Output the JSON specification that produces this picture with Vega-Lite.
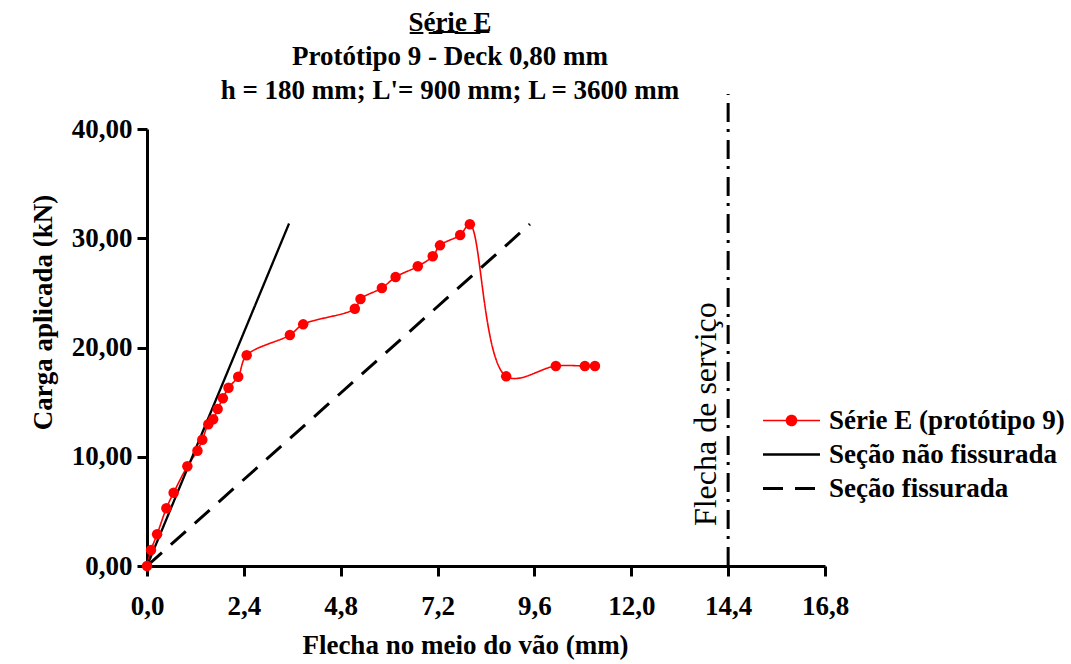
{
  "$schema": "https://vega.github.io/schema/vega-lite/v6.json",
  "width": 678,
  "height": 437,
  "autosize": {"type": "none"},
  "padding": {"left": 147, "top": 129, "right": 246, "bottom": 98},
  "background": "white",
  "config": {
    "view": {"stroke": null},
    "font": "Liberation Serif",
    "axis": {
      "labelFont": "Liberation Serif",
      "labelFontSize": 27,
      "labelFontWeight": "bold",
      "labelColor": "black",
      "labelFlush": false,
      "titleFont": "Liberation Serif",
      "titleFontSize": 27,
      "titleFontWeight": "bold",
      "titleColor": "black",
      "domainColor": "black",
      "domainWidth": 3,
      "tickColor": "black",
      "tickWidth": 3,
      "tickSize": 10,
      "grid": false
    }
  },
  "title": {
    "text": "S̲é̲r̲i̲e̲ ̲E̲",
    "subtitle": ["Protótipo 9 - Deck 0,80 mm", "h = 180 mm; L'= 900 mm; L = 3600 mm"],
    "font": "Liberation Serif",
    "fontSize": 27,
    "fontWeight": "bold",
    "color": "black",
    "subtitleFont": "Liberation Serif",
    "subtitleFontSize": 27,
    "subtitleFontWeight": "bold",
    "subtitleColor": "black",
    "subtitleLineHeight": 34,
    "subtitlePadding": 7,
    "anchor": "middle",
    "dx": -36,
    "offset": -12
  },
  "datasets": {
    "curves": [
      {"serie": "Série E (protótipo 9)", "x": 0, "y": 0},
      {"serie": "Série E (protótipo 9)", "x": 0.10, "y": 1.46},
      {"serie": "Série E (protótipo 9)", "x": 0.25, "y": 2.9},
      {"serie": "Série E (protótipo 9)", "x": 0.48, "y": 5.28},
      {"serie": "Série E (protótipo 9)", "x": 0.66, "y": 6.71},
      {"serie": "Série E (protótipo 9)", "x": 1.0, "y": 9.13},
      {"serie": "Série E (protótipo 9)", "x": 1.25, "y": 10.55},
      {"serie": "Série E (protótipo 9)", "x": 1.37, "y": 11.56},
      {"serie": "Série E (protótipo 9)", "x": 1.52, "y": 12.97},
      {"serie": "Série E (protótipo 9)", "x": 1.64, "y": 13.43},
      {"serie": "Série E (protótipo 9)", "x": 1.75, "y": 14.37},
      {"serie": "Série E (protótipo 9)", "x": 1.88, "y": 15.35},
      {"serie": "Série E (protótipo 9)", "x": 2.02, "y": 16.32},
      {"serie": "Série E (protótipo 9)", "x": 2.26, "y": 17.33},
      {"serie": "Série E (protótipo 9)", "x": 2.47, "y": 19.29},
      {"serie": "Série E (protótipo 9)", "x": 3.54, "y": 21.14},
      {"serie": "Série E (protótipo 9)", "x": 3.87, "y": 22.12},
      {"serie": "Série E (protótipo 9)", "x": 5.15, "y": 23.55},
      {"serie": "Série E (protótipo 9)", "x": 5.29, "y": 24.44},
      {"serie": "Série E (protótipo 9)", "x": 5.82, "y": 25.45},
      {"serie": "Série E (protótipo 9)", "x": 6.16, "y": 26.45},
      {"serie": "Série E (protótipo 9)", "x": 6.71, "y": 27.43},
      {"serie": "Série E (protótipo 9)", "x": 7.08, "y": 28.35},
      {"serie": "Série E (protótipo 9)", "x": 7.26, "y": 29.35},
      {"serie": "Série E (protótipo 9)", "x": 7.76, "y": 30.3},
      {"serie": "Série E (protótipo 9)", "x": 8.0, "y": 31.28},
      {"serie": "Série E (protótipo 9)", "x": 8.9, "y": 17.36},
      {"serie": "Série E (protótipo 9)", "x": 10.13, "y": 18.31},
      {"serie": "Série E (protótipo 9)", "x": 10.85, "y": 18.31},
      {"serie": "Série E (protótipo 9)", "x": 11.1, "y": 18.31},
      {"serie": "Seção não fissurada", "x": 0, "y": 0},
      {"serie": "Seção não fissurada", "x": 3.52, "y": 31.35},
      {"serie": "Seção fissurada", "x": 0, "y": 0},
      {"serie": "Seção fissurada", "x": 9.49, "y": 31.3}
    ],
    "servico": [
      {"x": 14.4, "y": 0, "y2": 43.2, "label": "Flecha de serviço", "lx": 13.85, "ly": 13.9}
    ]
  },
  "layer": [
    {
      "data": {"name": "curves"},
      "mark": {"type": "line", "interpolate": "catmull-rom"},
      "encoding": {
        "x": {
          "field": "x", "type": "quantitative",
          "scale": {"domain": [0, 16.8], "nice": false, "zero": false},
          "axis": {
            "title": "Flecha no meio do vão (mm)",
            "values": [0, 2.4, 4.8, 7.2, 9.6, 12.0, 14.4, 16.8],
            "labelExpr": "replace(format(datum.value, '.1f'), '.', ',')",
            "labelPadding": 17,
            "titlePadding": 13,
            "titleX": 318,
            "titleAlign": "center",
            "encode": {"ticks": {"update": {"y": {"value": -10}, "y2": {"value": 10}}}}
          }
        },
        "y": {
          "field": "y", "type": "quantitative",
          "scale": {"domain": [0, 40], "nice": false},
          "axis": {
            "title": "Carga aplicada (kN)",
            "values": [0, 10, 20, 30, 40],
            "labelExpr": "replace(format(datum.value, '.2f'), '.', ',')",
            "labelPadding": 5,
            "titlePadding": 14,
            "titleY": 183,
            "encode": {"ticks": {"update": {"x": {"value": 10}, "x2": {"value": -10}}}}
          }
        },
        "color": {
          "field": "serie", "type": "nominal",
          "scale": {
            "domain": ["Série E (protótipo 9)", "Seção não fissurada", "Seção fissurada"],
            "range": ["#ff0000", "black", "black"]
          },
          "legend": {
            "title": null,
            "orient": "none",
            "legendX": 631,
            "legendY": 278,
            "padding": 0,
            "symbolType": "stroke",
            "symbolSize": 400,
            "symbolStrokeWidth": 3,
            "labelFont": "Liberation Serif",
            "labelFontSize": 27,
            "labelFontWeight": "bold",
            "labelColor": "black",
            "labelOffset": 24,
            "labelLimit": 400,
            "rowPadding": 6,
            "encode": {
              "symbols": {
                "update": {
                  "shape": {"signal": "datum.value === 'Série E (protótipo 9)' ? 'M-2.85,0H2.85M0.5,0A0.5,0.5,0,1,1,-0.5,0A0.5,0.5,0,1,1,0.5,0Z' : 'M-2.85,0H2.85'"},
                  "fill": {"signal": "datum.value === 'Série E (protótipo 9)' ? '#ff0000' : 'transparent'"},
                  "strokeWidth": {"signal": "datum.value === 'Série E (protótipo 9)' ? 2 : 3.5"}
                }
              }
            }
          }
        },
        "strokeDash": {
          "field": "serie", "type": "nominal",
          "scale": {
            "domain": ["Série E (protótipo 9)", "Seção não fissurada", "Seção fissurada"],
            "range": [[1, 0], [1, 0], [20, 12]]
          },
          "legend": {"title": null}
        },
        "strokeWidth": {
          "field": "serie", "type": "nominal",
          "scale": {
            "domain": ["Série E (protótipo 9)", "Seção não fissurada", "Seção fissurada"],
            "range": [1.6, 3, 3]
          },
          "legend": null
        }
      }
    },
    {
      "data": {"name": "curves"},
      "transform": [{"filter": "datum.serie === 'Série E (protótipo 9)'"}],
      "mark": {"type": "circle", "size": 110, "opacity": 1, "color": "#ff0000"},
      "encoding": {
        "x": {"field": "x", "type": "quantitative"},
        "y": {"field": "y", "type": "quantitative"}
      }
    },
    {
      "data": {"name": "servico"},
      "mark": {"type": "rule", "color": "black", "strokeWidth": 3, "strokeDash": [19, 8, 3, 7]},
      "encoding": {
        "x": {"field": "x", "type": "quantitative"},
        "y": {"field": "y", "type": "quantitative"},
        "y2": {"field": "y2"}
      }
    },
    {
      "data": {"name": "servico"},
      "mark": {"type": "text", "angle": 270, "font": "Liberation Serif", "fontSize": 32, "fontWeight": "normal", "color": "black", "align": "center", "baseline": "middle"},
      "encoding": {
        "x": {"field": "lx", "type": "quantitative"},
        "y": {"field": "ly", "type": "quantitative"},
        "text": {"field": "label"}
      }
    }
  ]
}
